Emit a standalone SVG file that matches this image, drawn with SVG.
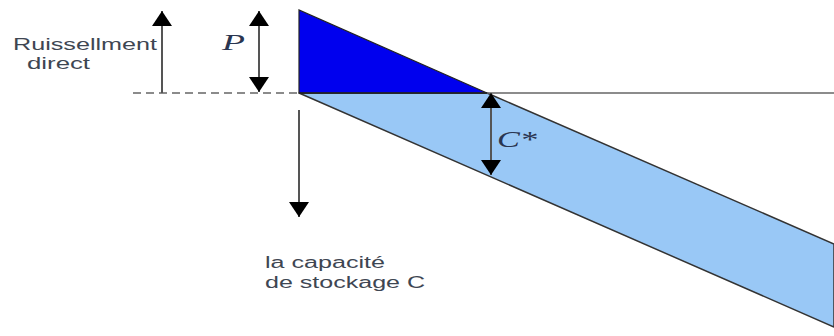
<svg xmlns="http://www.w3.org/2000/svg" width="834" height="336" viewBox="0 0 834 336">
<defs>
<marker id="ah" markerUnits="userSpaceOnUse" markerWidth="15" markerHeight="20" viewBox="0 0 15 20" refX="15" refY="10" orient="auto-start-reverse">
<path d="M0,0 L15,10 L0,20 z" fill="#000"/>
</marker>
</defs>
<style>
.lbl{font-family:"Liberation Sans",Arial,sans-serif;font-size:16px;fill:#3e4652}
.sym{font-family:"Liberation Serif","Times New Roman",serif;font-style:italic;font-size:24px;fill:#2a3550}
.arr{stroke:#555;stroke-width:2;fill:none}
</style>
<rect width="834" height="336" fill="#fff"/>
<g id="band">
<polygon points="299,93 487,93 834,244 834,327" fill="#99c8f6" stroke="#333" stroke-width="1.5" stroke-linejoin="round"/>
</g>
<g id="triangle">
<polygon points="299,10 299,93 487,93" fill="#0000ee" stroke="#222" stroke-width="1.2"/>
</g>
<g id="connectors">
<line x1="133" y1="93" x2="299" y2="93" stroke="#666" stroke-width="1.5" stroke-dasharray="8,5"/>
<line x1="487" y1="93" x2="834" y2="93" stroke="#666" stroke-width="1.5"/>
<line x1="299" y1="93" x2="487" y2="93" stroke="#222" stroke-width="1.5"/>
<line class="arr" x1="162" y1="93" x2="162" y2="11" marker-end="url(#ah)"/>
<line class="arr" x1="259" y1="11" x2="259" y2="92" marker-start="url(#ah)" marker-end="url(#ah)"/>
<line class="arr" x1="491" y1="93" x2="491" y2="175" marker-start="url(#ah)" marker-end="url(#ah)"/>
<line class="arr" x1="299" y1="110" x2="299" y2="217" marker-end="url(#ah)"/>
</g>
<g id="labels">
<text class="lbl" x="13" y="50" textLength="144" lengthAdjust="spacingAndGlyphs">Ruissellment</text>
<text class="lbl" x="27" y="69" textLength="63" lengthAdjust="spacingAndGlyphs">direct</text>
<text class="sym" x="222" y="50" textLength="23" lengthAdjust="spacingAndGlyphs">P</text>
<text class="sym" x="497" y="147" textLength="40" lengthAdjust="spacingAndGlyphs">C*</text>
<text class="lbl" x="265" y="268" textLength="120" lengthAdjust="spacingAndGlyphs">la capacité</text>
<text class="lbl" x="265" y="288" textLength="160" lengthAdjust="spacingAndGlyphs">de stockage C</text>
</g>
</svg>
